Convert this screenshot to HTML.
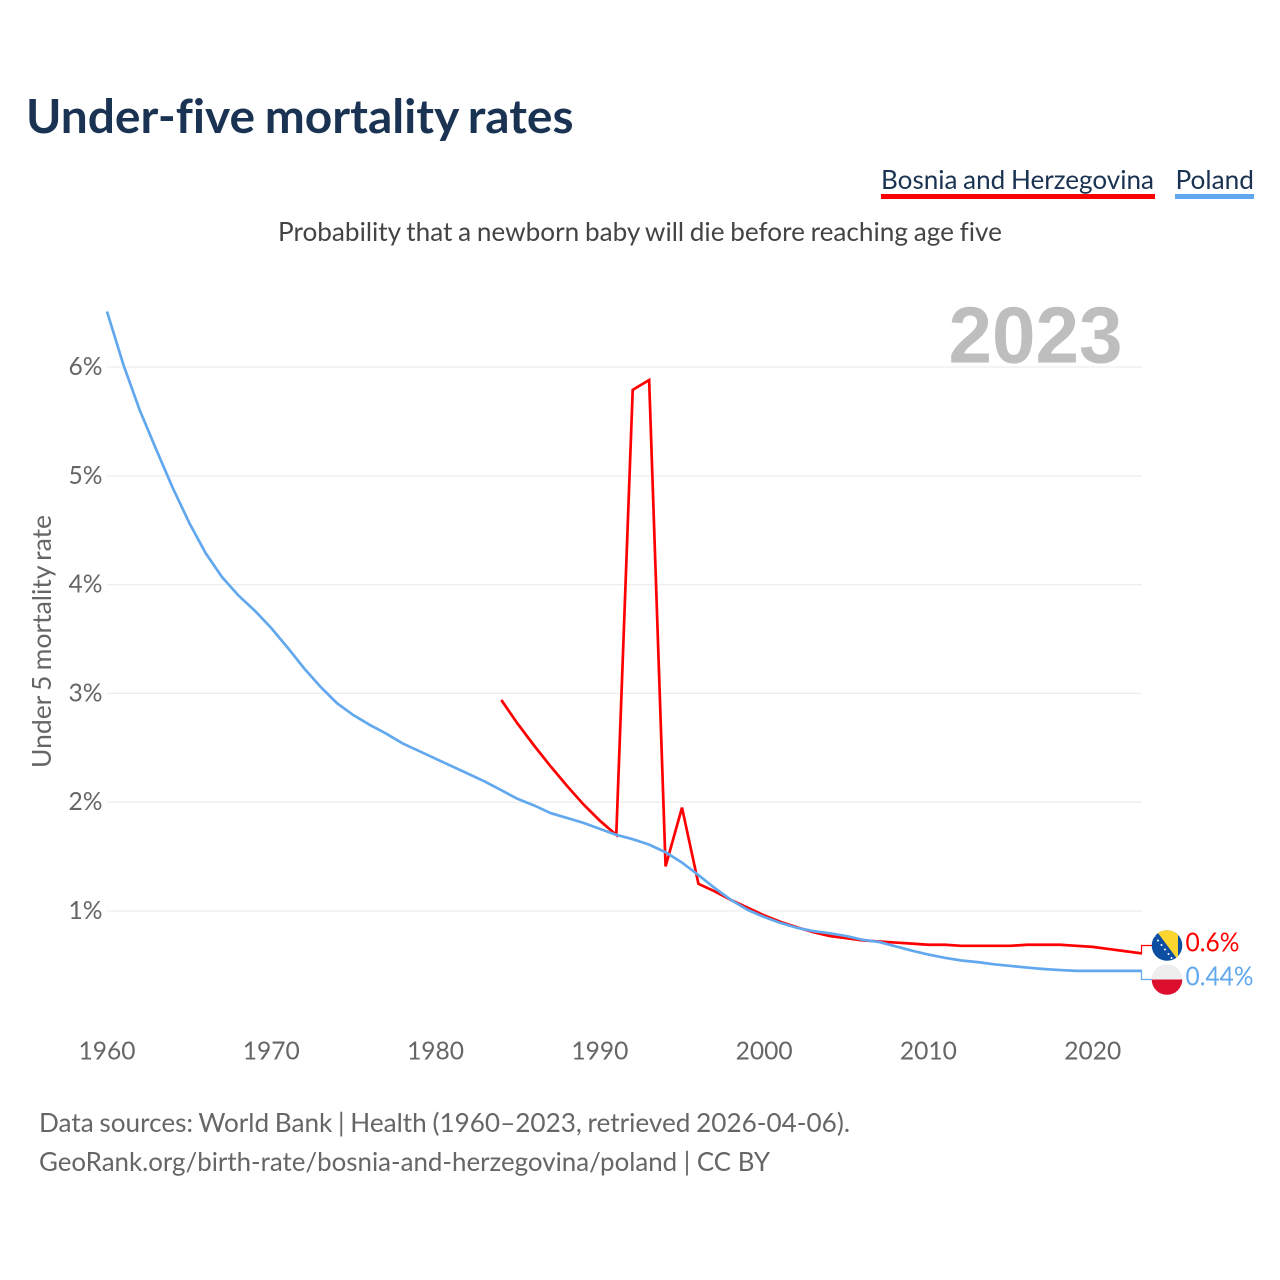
<!DOCTYPE html>
<html lang="en">
<head>
<meta charset="utf-8">
<title>Under-five mortality rates</title>
<style>
  html, body { margin: 0; padding: 0; background: #fff; }
  svg { display: block; }
  text { font-family: "Lato", "Carlito", "Liberation Sans", sans-serif; font-variant-ligatures: none; }
</style>
</head>
<body>
<svg id="chart" xmlns="http://www.w3.org/2000/svg" width="1280" height="1280" viewBox="0 0 1280 1280">
  <rect x="0" y="0" width="1280" height="1280" fill="#ffffff"/>
  <text x="26" y="133" font-size="47" font-weight="700" fill="#1a3352" word-spacing="-2" textLength="547.5" lengthAdjust="spacingAndGlyphs">Under-five mortality rates</text>

  <g>
    <text x="881" y="189" font-size="26.5" fill="#1a3352" word-spacing="-1" textLength="273" lengthAdjust="spacingAndGlyphs">Bosnia and Herzegovina</text>
    <rect x="881" y="194" width="274" height="5" fill="#ff0000"/>
  </g>
  <g>
    <text x="1175.5" y="189" font-size="26.5" fill="#1a3352" textLength="78.5" lengthAdjust="spacingAndGlyphs">Poland</text>
    <rect x="1175" y="194" width="79" height="5" fill="#62a8ee"/>
  </g>

  <text x="278" y="241" font-size="26.5" fill="#444444" word-spacing="-1" textLength="724" lengthAdjust="spacingAndGlyphs">Probability that a newborn baby will die before reaching age five</text>

  <g id="grid"></g>
  <text x="948.5" y="362.5" font-size="80" font-weight="700" fill="#bebebe" style="font-family:'Liberation Sans',sans-serif" textLength="174" lengthAdjust="spacingAndGlyphs">2023</text>
  <g id="y-ticks"></g>
  <g id="x-ticks"></g>
  <text transform="translate(51,768) rotate(-90)" x="0" y="0" font-size="26.5" fill="#666666" word-spacing="-1.5" textLength="253" lengthAdjust="spacingAndGlyphs">Under 5 mortality rate</text>

  <g id="series"></g>

  <defs>
    <clipPath id="clip-ba"><circle cx="1167" cy="945.5" r="15.3"/></clipPath>
    <clipPath id="clip-pl"><circle cx="1167" cy="979.5" r="15.3"/></clipPath>
  </defs>
  <g clip-path="url(#clip-ba)">
    <rect x="1150" y="928" width="34" height="36" fill="#0b4ea2"/>
    <polygon points="1155,929 1178,929 1178,960" fill="#fcd62f"/>
    <g fill="#ffffff">
      <circle cx="1154.5" cy="936" r="1"/>
      <circle cx="1158" cy="940.5" r="1"/>
      <circle cx="1161.5" cy="945" r="1"/>
      <circle cx="1165" cy="949.5" r="1"/>
      <circle cx="1168.5" cy="954" r="1"/>
      <circle cx="1171.5" cy="958" r="1"/>
    </g>
  </g>
  <g clip-path="url(#clip-pl)">
    <rect x="1150" y="962" width="34" height="18" fill="#eeeeee"/>
    <rect x="1150" y="979.5" width="34" height="18" fill="#dc0f2e"/>
  </g>
  <text x="1185.5" y="951.5" font-size="26.5" fill="#ff0000" textLength="54" lengthAdjust="spacingAndGlyphs">0.6%</text>
  <text x="1185.5" y="985.5" font-size="26.5" fill="#62a8ee" textLength="68" lengthAdjust="spacingAndGlyphs">0.44%</text>

  <text x="39" y="1132" font-size="26.5" fill="#666666" word-spacing="-1" textLength="811" lengthAdjust="spacingAndGlyphs">Data sources: World Bank | Health (1960–2023, retrieved 2026-04-06).</text>
  <text x="39" y="1171" font-size="26.5" fill="#666666" word-spacing="0" textLength="731" lengthAdjust="spacingAndGlyphs">GeoRank.org/birth-rate/bosnia-and-herzegovina/poland | CC BY</text>
</svg>
<script>
const years = [1960,1961,1962,1963,1964,1965,1966,1967,1968,1969,1970,1971,1972,1973,1974,1975,1976,1977,1978,1979,1980,1981,1982,1983,1984,1985,1986,1987,1988,1989,1990,1991,1992,1993,1994,1995,1996,1997,1998,1999,2000,2001,2002,2003,2004,2005,2006,2007,2008,2009,2010,2011,2012,2013,2014,2015,2016,2017,2018,2019,2020,2021,2022,2023];
const polandValues = [6.51,6.02,5.6,5.24,4.89,4.57,4.29,4.07,3.9,3.76,3.6,3.42,3.23,3.06,2.91,2.8,2.71,2.63,2.54,2.47,2.4,2.33,2.26,2.19,2.11,2.03,1.97,1.9,1.855,1.81,1.755,1.7,1.66,1.61,1.54,1.445,1.33,1.21,1.1,1.01,0.945,0.89,0.845,0.815,0.795,0.77,0.735,0.715,0.675,0.635,0.6,0.57,0.545,0.53,0.51,0.495,0.48,0.467,0.457,0.45,0.45,0.45,0.45,0.45];
const bosniaYears = [1984,1985,1986,1987,1988,1989,1990,1991,1992,1993,1994,1995,1996,1997,1998,1999,2000,2001,2002,2003,2004,2005,2006,2007,2008,2009,2010,2011,2012,2013,2014,2015,2016,2017,2018,2019,2020,2021,2022,2023];
const bosniaValues = [2.94,2.72,2.52,2.33,2.15,1.98,1.83,1.7,5.79,5.88,1.41,1.95,1.25,1.18,1.1,1.03,0.96,0.9,0.85,0.805,0.77,0.75,0.73,0.72,0.71,0.70,0.69,0.69,0.68,0.68,0.68,0.68,0.69,0.69,0.69,0.68,0.67,0.65,0.63,0.61];
const yTickValues = [1,2,3,4,5,6];
const yTickLabels = ['1%','2%','3%','4%','5%','6%'];
const xTickValues = [1960,1970,1980,1990,2000,2010,2020];
const xTickLabels = ['1960','1970','1980','1990','2000','2010','2020'];

const SVG_NS = 'http://www.w3.org/2000/svg';
const xScale = function (year) { return 107 + (year - 1960) * (1142 - 107) / 63; };
const yScale = function (value) { return 911 - (value - 1) * 108.8; };

const gridGroup = document.getElementById('grid');
const yTickGroup = document.getElementById('y-ticks');
const xTickGroup = document.getElementById('x-ticks');
const seriesGroup = document.getElementById('series');

yTickValues.forEach(function (value, i) {
  const line = document.createElementNS(SVG_NS, 'line');
  
  
  line.setAttribute('x1', 107);
  line.setAttribute('x2', 1142);
  line.setAttribute('y1', yScale(value));
  line.setAttribute('y2', yScale(value));
  line.setAttribute('stroke', '#eeeeee');
  line.setAttribute('stroke-width', '1.3');
  gridGroup.appendChild(line);

  const label = document.createElementNS(SVG_NS, 'text');
  
  
  label.setAttribute('x', 102.5);
  label.setAttribute('y', yScale(value) + 8);
  label.setAttribute('text-anchor', 'end');
  label.setAttribute('font-size', '25.5');
  label.setAttribute('fill', '#666666');
  label.setAttribute('textLength', '34');
  label.setAttribute('lengthAdjust', 'spacingAndGlyphs');
  label.textContent = yTickLabels[i];
  yTickGroup.appendChild(label);
});

xTickValues.forEach(function (year, i) {
  const label = document.createElementNS(SVG_NS, 'text');
  
  
  label.setAttribute('x', xScale(year));
  label.setAttribute('y', 1059.5);
  label.setAttribute('text-anchor', 'middle');
  label.setAttribute('font-size', '25.5');
  label.setAttribute('fill', '#666666');
  label.setAttribute('textLength', '57');
  label.setAttribute('lengthAdjust', 'spacingAndGlyphs');
  label.textContent = xTickLabels[i];
  xTickGroup.appendChild(label);
});

const toPoints = function (xs, ys) {
  return xs.map(function (x, i) {
    return xScale(x).toFixed(2) + ',' + yScale(ys[i]).toFixed(2);
  }).join(' ');
};

const bosniaLine = document.createElementNS(SVG_NS, 'polyline');


bosniaLine.setAttribute('points', toPoints(bosniaYears, bosniaValues));
bosniaLine.setAttribute('fill', 'none');
bosniaLine.setAttribute('stroke', '#ff0000');
bosniaLine.setAttribute('stroke-width', '2.7');
seriesGroup.appendChild(bosniaLine);

const polandLine = document.createElementNS(SVG_NS, 'polyline');


polandLine.setAttribute('points', toPoints(years, polandValues));
polandLine.setAttribute('fill', 'none');
polandLine.setAttribute('stroke', '#62a8ee');
polandLine.setAttribute('stroke-width', '2.7');
seriesGroup.appendChild(polandLine);

const bosniaEndY = yScale(bosniaValues[bosniaValues.length - 1]);
const polandEndY = yScale(polandValues[polandValues.length - 1]);

const bosniaConnector = document.createElementNS(SVG_NS, 'polyline');


bosniaConnector.setAttribute('points', '1141.5,' + bosniaEndY + ' 1141.5,945.5 1153,945.5');
bosniaConnector.setAttribute('fill', 'none');
bosniaConnector.setAttribute('stroke', '#ff0000');
bosniaConnector.setAttribute('stroke-width', '1.2');
seriesGroup.appendChild(bosniaConnector);

const polandConnector = document.createElementNS(SVG_NS, 'polyline');


polandConnector.setAttribute('points', '1141.5,' + polandEndY + ' 1141.5,979.5 1153,979.5');
polandConnector.setAttribute('fill', 'none');
polandConnector.setAttribute('stroke', '#62a8ee');
polandConnector.setAttribute('stroke-width', '1.2');
seriesGroup.appendChild(polandConnector);
</script>
</body>
</html>
